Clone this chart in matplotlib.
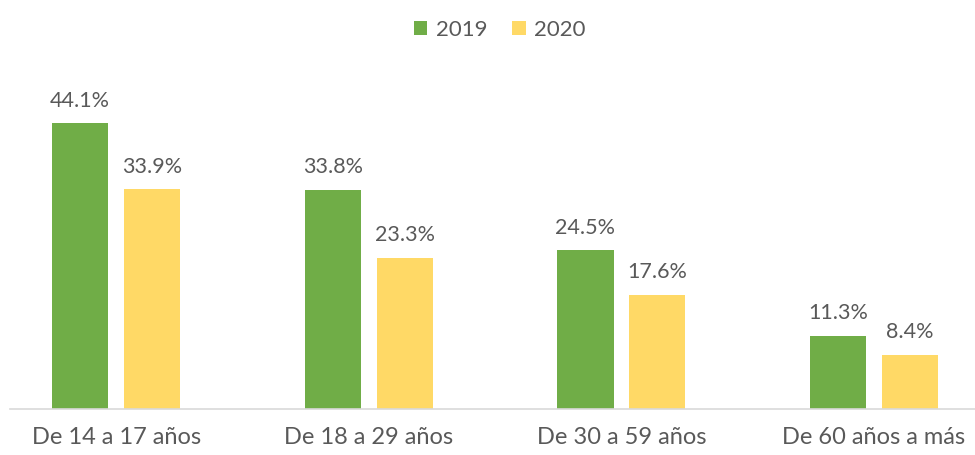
import numpy as np
import matplotlib
matplotlib.use("Agg")
from matplotlib import pyplot as plt

categories = ["De 14 a 17 años", "De 18 a 29 años", "De 30 a 59 años", "De 60 años a más"]
years = ["2019", "2020"]
values_2019 = [44.1, 33.8, 24.5, 11.3]
values_2020 = [33.9, 23.3, 17.6, 8.4]

green = "#70AD47"
yellow = "#FFD966"
text_gray = "#595959"

plt.rcParams['font.family'] = ['Lato', 'DejaVu Sans']

fig = plt.figure(figsize=(9.75, 4.55), dpi=100)
ax = fig.add_axes([10 / 975, 46 / 455, 965 / 975, 409 / 455])

x = np.arange(len(categories))
w = 0.222
off = 0.142
b1 = ax.bar(x - off, values_2019, w, color=green, label=years[0])
b2 = ax.bar(x + off, values_2020, w, color=yellow, label=years[1])

for bars, vals in ((b1, values_2019), (b2, values_2020)):
    for rect, v in zip(bars, vals):
        ax.annotate(f"{v:.1f}%", (rect.get_x() + rect.get_width() / 2, v),
                    xytext=(0, 9), textcoords="offset points",
                    ha="center", va="bottom", fontsize=15.5, color=text_gray)

ax.set_xlim(-0.42, 3.40)
ax.set_ylim(0, 63.07)
ax.set_xticks(x)
ax.set_xticklabels(categories, fontsize=17, color=text_gray)
ax.tick_params(axis="x", length=0, pad=13)
ax.set_yticks([])
for s in ("top", "right", "left"):
    ax.spines[s].set_visible(False)
ax.spines["bottom"].set_color("#D9D9D9")
ax.spines["bottom"].set_linewidth(1.2)

fig.legend(loc="center", bbox_to_anchor=(500 / 975, 1 - 30 / 455), ncol=2, frameon=False,
           fontsize=16, labelcolor=text_gray, handlelength=0.6, handleheight=0.6,
           handletextpad=0.4, columnspacing=1.1)

fig.savefig("out.png", dpi=100)
